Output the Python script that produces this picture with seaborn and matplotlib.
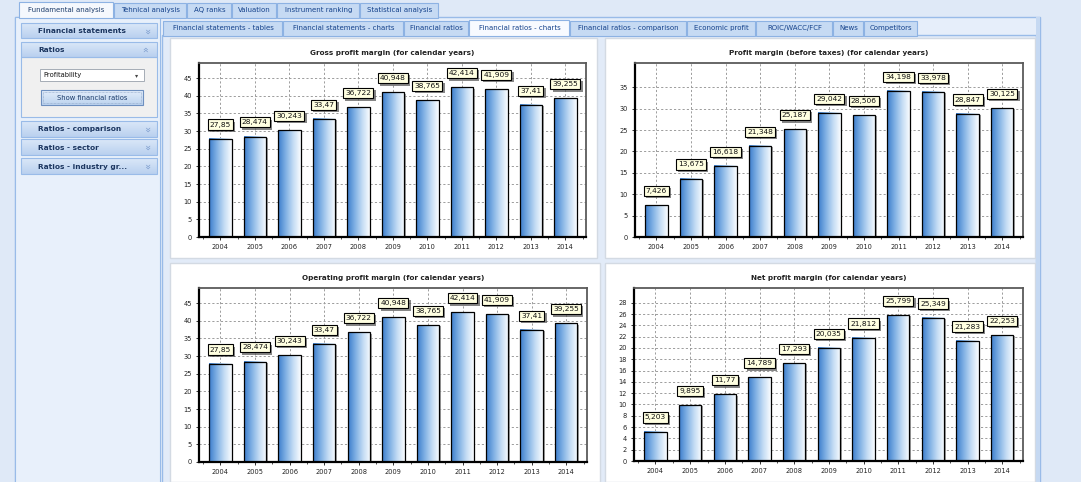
import numpy as np
import pandas as pd
import matplotlib
matplotlib.use("Agg")
import matplotlib.pyplot as plt
import seaborn as sns
from matplotlib.colors import LinearSegmentedColormap
from matplotlib.patches import Rectangle
import matplotlib.patheffects as pe
import matplotlib.transforms as mtrans
from matplotlib.ticker import FixedLocator

# ---------------- data ----------------
years = ["2004", "2005", "2006", "2007", "2008", "2009", "2010", "2011", "2012", "2013", "2014"]
gross_margin = [27.85, 28.474, 30.243, 33.47, 36.722, 40.948, 38.765, 42.414, 41.909, 37.41, 39.255]
pretax_margin = [7.426, 13.675, 16.618, 21.348, 25.187, 29.042, 28.506, 34.198, 33.978, 28.847, 30.125]
operating_margin = [27.85, 28.474, 30.243, 33.47, 36.722, 40.948, 38.765, 42.414, 41.909, 37.41, 39.255]
net_margin = [5.203, 9.895, 11.77, 14.789, 17.293, 20.035, 21.812, 25.799, 25.349, 21.283, 22.253]

chart_titles = ["Gross profit margin (for calendar years)",
                "Profit margin (before taxes) (for calendar years)",
                "Operating profit margin (for calendar years)",
                "Net profit margin (for calendar years)"]
ytick_step = [5, 5, 5, 2]
ytick_max = [45, 35, 45, 28]
ylim_top = [49.3, 40.7, 49.3, 30.6]

main_tabs = ["Fundamental analysis", "Tehnical analysis", "AQ ranks", "Valuation",
             "Instrument ranking", "Statistical analysis"]
inner_tabs = ["Financial statements - tables", "Financial statements - charts", "Financial ratios",
              "Financial ratios - charts", "Financial ratios - comparison", "Economic profit",
              "ROIC/WACC/FCF", "News", "Competitors"]
side_headers = ["Financial statements", "Ratios", "Ratios - comparison", "Ratios - sector",
                "Ratios - industry gr..."]
dropdown_text = "Profitability"
button_text = "Show financial ratios"

# ---------------- layout (pixels) ----------------
W, H = 1081, 482
main_tab_edges = [19, 114, 187, 232, 277, 360, 439]
inner_tab_edges = [163, 283, 404, 469, 570, 687, 756, 833, 864, 918]
side_rows = [(23, 38), (42, 57), (121, 137), (139, 155), (158, 174)]
panels = [(170, 38, 597, 258), (605, 38, 1035, 258), (170, 263, 600, 482), (605, 263, 1035, 482)]
axes_px = [(199, 63, 586, 237), (635, 63, 1023, 237), (199, 288, 587, 462), (634, 288, 1023, 461)]

BG = "#dfe9f7"
NAVY = "#15428b"
UI_FONT = "DejaVu Sans"

sns.set_theme(style="white")
plt.rcParams["font.family"] = ["DejaVu Sans"]

fig = plt.figure(figsize=(W / 100, H / 100), dpi=100)
fig.patch.set_facecolor(BG)

bg = fig.add_axes([0, 0, 1, 1])
bg.set_zorder(-5)
bg.axis("off")


def box(x0, y0, x1, y1, fc, ec="none", lw=0.8, z=1, ls="-"):
    bg.add_patch(Rectangle((x0, y0), x1 - x0, y1 - y0, fc=fc, ec=ec, lw=lw, zorder=z, ls=ls))


def vgrad(x0, y0, x1, y1, c_top, c_bot, z=1.5):
    cm = LinearSegmentedColormap.from_list("v", [c_top, c_bot])
    g = np.linspace(0, 1, 64).reshape(-1, 1)
    bg.imshow(g, extent=[x0, x1, y1, y0], cmap=cm, aspect="auto", zorder=z, interpolation="bilinear")


# outer frames
box(15, 17, 1040, 490, "#e6eefa", ec="#99bbe8", lw=1.0)
box(162, 35, 1036, 490, "#e2ebf8", ec="#99bbe8", lw=1.0)
box(15, 17, 160, 490, "#e8f0fb", ec="#99bbe8", lw=0.8)

# main tabs
for i, t in enumerate(main_tabs):
    x0, x1 = main_tab_edges[i], main_tab_edges[i + 1]
    sel = i == 0
    box(x0, 2 if sel else 3, x1 - 1, 17.5, "#f5f8fd" if sel else "#c6daf3", ec="#8db2e3", lw=0.8, z=2)
    bg.text((x0 + x1) / 2, 10, t, fontsize=5.0, ha="center", va="center", color=NAVY if not sel else "#1b3b6a",
            family=UI_FONT, zorder=3)

# inner tabs
for i, t in enumerate(inner_tabs):
    x0, x1 = inner_tab_edges[i], inner_tab_edges[i + 1]
    sel = i == 3
    box(x0, 20 if sel else 21, x1 - 1, 35.5, "#f7faff" if sel else "#c6daf3", ec="#8db2e3", lw=0.8, z=2)
    bg.text((x0 + x1) / 2, 28, t, fontsize=5.0, ha="center", va="center", color=NAVY,
            family=UI_FONT, zorder=3)

# side panel
box(21, 57, 157, 117, "#f0f0f0", ec="#99bbe8", lw=0.8, z=2)
for i, (t, (y0, y1)) in enumerate(zip(side_headers, side_rows)):
    vgrad(21, y0, 157, y1, "#dbe8f8", "#b9d0ef", z=2)
    box(21, y0, 157, y1, "none", ec="#99bbe8", lw=0.8, z=2.5)
    bg.text(38, (y0 + y1) / 2 + 0.5, t, fontsize=5.3, fontweight="bold", ha="left", va="center",
            color="#1c3660", family=UI_FONT, zorder=3)
    bg.text(146, (y0 + y1) / 2, "»", fontsize=7, ha="center", va="center", color="#7f9fcf",
            rotation=90 if i == 1 else 270, zorder=3)
box(40, 69, 144, 81, "white", ec="#a5acb5", lw=0.7, z=3)
bg.text(43, 75, dropdown_text, fontsize=4.9, ha="left", va="center", color="#111", zorder=4)
bg.text(137, 75.5, "▾", fontsize=4.5, ha="center", va="center", color="#444", zorder=4)
vgrad(41, 90, 143, 105, "#e4eefb", "#bcd3ef", z=3)
box(41, 90, 143, 105, "none", ec="#6d8fbf", lw=0.8, z=3.5)
box(43, 92, 141, 103, "none", ec="#8aa2c4", lw=0.5, z=3.5, ls=(0, (1, 1)))
bg.text(92, 97.5, button_text, fontsize=4.9, ha="center", va="center", color="#1b3b6a", zorder=4)

# white chart panels
for (x0, y0, x1, y1) in panels:
    box(x0, y0, x1, y1, "white", ec="#d3dae3", lw=1.0, z=2)

# right border band
box(1036, 17, 1040, 490, "#c6d9f2", ec="none", z=2)

bg.set_xlim(0, W)
bg.set_ylim(H, 0)

# ---------------- charts ----------------
grad_cmap = LinearSegmentedColormap.from_list("bar", ["#3b7ccb", "#7fb0e4", "#c4dcf4", "#fbfdff"])
grad = np.linspace(0, 1, 256).reshape(1, -1)


def fmt(v):
    s = f"{v:.3f}".rstrip("0").rstrip(".")
    return s.replace(".", ",")


series = [gross_margin, pretax_margin, operating_margin, net_margin]

for k, vals in enumerate(series):
    l, t, r, b = axes_px[k]
    ax = fig.add_axes([l / W, 1 - b / H, (r - l) / W, (b - t) / H])
    df = pd.DataFrame({"year": years, "value": vals})
    sns.barplot(data=df, x="year", y="value", ax=ax, color="white", edgecolor="black",
                linewidth=0.9, width=0.65, saturation=1)
    ax.set_facecolor("white")
    shadow_tr = mtrans.offset_copy(ax.transData, fig=fig, x=1.6, y=-1.2, units="dots")
    for p in list(ax.patches):
        x, w, h = p.get_x(), p.get_width(), p.get_height()
        p.set_facecolor("none")
        p.set_zorder(3)
        ax.imshow(grad, extent=[x, x + w, 0, h], cmap=grad_cmap, aspect="auto",
                  zorder=2.5, interpolation="bicubic")
        ax.add_patch(Rectangle((x, 0), w, h, fc="#8c8c8c", ec="none", zorder=2.2,
                               transform=shadow_tr, alpha=0.8))
    ax.set_xlim(-0.62, 10.6)
    ax.set_ylim(0, ylim_top[k])
    ax.set_xlabel("")
    ax.set_ylabel("")
    ax.yaxis.set_major_locator(FixedLocator(np.arange(0, ytick_max[k] + 0.1, ytick_step[k])))
    ax.xaxis.set_minor_locator(FixedLocator(np.arange(-0.5, 10.6, 0.5)))
    ax.set_axisbelow(True)
    ax.grid(True, axis="both", which="major", ls=(0, (2.2, 2.2)), color="#9c9c9c", lw=0.7)
    ax.tick_params(axis="both", which="major", length=2.5, width=0.7, labelsize=4.8,
                   colors="#333333", pad=2.5, direction="out", bottom=True, left=True)
    ax.tick_params(axis="x", which="minor", length=1.5, width=0.6, color="#333333", bottom=True)
    for lab in ax.get_xticklabels() + ax.get_yticklabels():
        lab.set_fontsize(4.8)
        lab.set_color("#222222")
    for side in ["left", "bottom"]:
        ax.spines[side].set_color("black")
        ax.spines[side].set_linewidth(1.6)
    for side in ["top", "right"]:
        ax.spines[side].set_color("#5a5a5a")
        ax.spines[side].set_linewidth(1.3)
    for side in ax.spines:
        ax.spines[side].set_visible(True)
    ax.set_title(chart_titles[k], fontsize=5.2, fontweight="bold", color="#222222", pad=6)
    for i, v in enumerate(vals):
        a = ax.annotate(fmt(v), xy=(i, v), xytext=(0, 8), textcoords="offset points",
                        ha="center", va="bottom", fontsize=5.4, color="#111111", zorder=6,
                        bbox=dict(boxstyle="square,pad=0.28", fc="#ffffe1", ec="black", lw=0.8))
        a.get_bbox_patch().set_path_effects([
            pe.SimplePatchShadow(offset=(1.6, -1.6), shadow_rgbFace="#555555", alpha=0.7),
            pe.Normal()])

fig.savefig("out.png", dpi=100, facecolor=fig.get_facecolor())
